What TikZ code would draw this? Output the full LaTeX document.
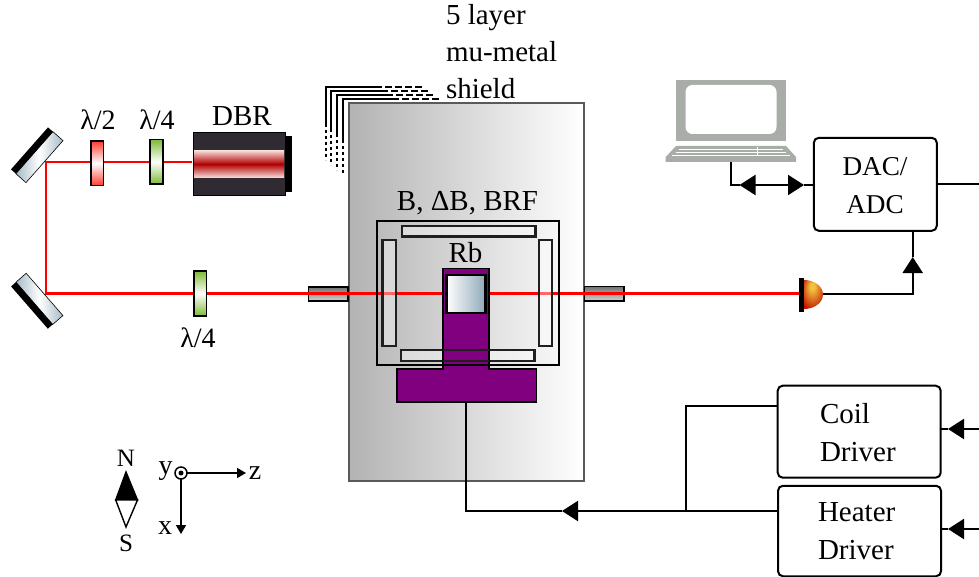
\documentclass[tikz,border=0pt]{standalone}
\usepackage{fontspec}
\setmainfont{Liberation Serif}
\usetikzlibrary{arrows.meta,calc}
\definecolor{beamred}{HTML}{FF0000}
\definecolor{platered}{HTML}{FF3B30}
\definecolor{plategreen}{HTML}{7DBB35}
\definecolor{dbrdark}{HTML}{302B33}
\definecolor{dbrred}{HTML}{B00000}
\definecolor{dbrpale}{HTML}{F6DCD8}
\definecolor{mirrorblue}{HTML}{A6BAC6}
\definecolor{cellblue}{HTML}{8FA9B8}
\definecolor{rbpurple}{HTML}{800080}
\definecolor{lapgray}{HTML}{A9ADA8}
\definecolor{domeyellow}{HTML}{F2C23E}
\definecolor{domered}{HTML}{C01000}
\pgfdeclareradialshading{domeshade}{\pgfpoint{-4bp}{16bp}}{color(0bp)=(domeyellow);color(6bp)=(domeyellow);color(34bp)=(domered);color(50bp)=(domered)}
\tikzset{
  >={Triangle[length=16pt,width=20pt]},
  lbl/.style={inner sep=0pt,outer sep=0pt,font=\fontsize{29}{37}\selectfont},
  lamlbl/.style={inner sep=0pt,outer sep=0pt,font=\fontsize{28}{37}\selectfont},
  dactxt/.style={inner sep=0pt,outer sep=0pt,align=center,font=\fontsize{27.2}{38}\selectfont},
  drvtxt/.style={inner sep=0pt,outer sep=0pt,align=left,font=\fontsize{29}{38}\selectfont},
  complbl/.style={inner sep=0pt,outer sep=0pt,font=\fontsize{25}{30}\selectfont},
  axlbl/.style={inner sep=0pt,outer sep=0pt,font=\fontsize{28}{30}\selectfont},
  wire/.style={draw=black,line width=2.2pt},
  beam/.style={draw=beamred,line width=2.2pt},
  ctrlbox/.style={draw=black,line width=2pt,rounded corners=5pt,inner sep=0pt,outer sep=0pt},
  plateR/.style={draw=black,line width=1.6pt,top color=platered,bottom color=platered,middle color=white},
  plateG/.style={draw=black,line width=1.6pt,top color=plategreen,bottom color=plategreen,middle color=white},
  tube/.style={draw=black,line width=1.6pt,top color=black!55,bottom color=black!18},
  coilbar/.style={draw=black!88,line width=2.2pt},
}
\begin{document}
\begin{tikzpicture}[x=1pt,y=-1pt]
\useasboundingbox (0,0) rectangle (979,577);

% coordinates on the beam
\coordinate (mt) at (46,162);
\coordinate (mb) at (46,293.5);
\coordinate (beamL) at (445,293.5);
\coordinate (beamR) at (487,293.5);

% mu-metal layers behind the shield
\foreach \xa/\ya/\xb/\xc/\yb/\yc in {326/87/375/422/124/160, 331/91/381/428/129/165, 337/95/386/435/134/170, 343/99/392/440/140/174}{
  \draw[line width=2.6pt] (\xa,\yb) -- (\xa,\ya) -- (\xb,\ya);
  \draw[line width=1.8pt,dash pattern=on 7pt off 3pt] (\xb,\ya) -- (\xc,\ya);
  \draw[line width=2.6pt,dash pattern=on 3pt off 3pt] (\xa,\yb) -- (\xa,\yc);
}

% shield
\path[left color=black!30,right color=white,draw=black!65,line width=1.6pt] (349,103) rectangle (584,481);

% ports
\path[tube] (308.5,287) rectangle (348,301);
\path[tube] (584.5,286.5) rectangle (624,301);

% beams
\draw[beam] (192,162) -- (mt) -- (mb) -- (beamL);
\draw[beam] (beamR) -- (800,293.5);

% DBR laser
\fill[black] (285,136) rectangle (292,192);
\path[fill=dbrdark,draw=black,line width=.8pt] (193,132) rectangle (285,195.5);
\path[top color=dbrpale,bottom color=dbrpale,middle color=dbrred] (194,150.5) rectangle (284,177.5);

% wave plates
\path[plateR] (90.7,141) rectangle (103.3,185.5);
\path[plateG] (150,139.5) rectangle (162.7,184);
\path[plateG] (193.7,271) rectangle (206.3,316);

% mirrors
\begin{scope}[shift={(37,155)},rotate=48.6]
  \path[left color=mirrorblue,right color=mirrorblue,middle color=white] (-28,-3.5) rectangle (28,10);
  \draw[black,line width=.6pt] (-28,-3.5) rectangle (28,10);
  \fill[black] (-28,-10) rectangle (28,-3.5);
\end{scope}
\begin{scope}[shift={(37,301)},rotate=-49]
  \path[left color=mirrorblue,right color=mirrorblue,middle color=white] (-28,-10) rectangle (28,3.5);
  \draw[black,line width=.6pt] (-28,-10) rectangle (28,3.5);
  \fill[black] (-28,3.5) rectangle (28,10);
\end{scope}

% coils
\draw[black,line width=2pt] (377,221) rectangle (558.5,365);
\path[coilbar,fill=white,fill opacity=.4] (402,226) rectangle (535.5,236.5);
\path[coilbar,fill=white,fill opacity=.4] (382.5,240) rectangle (396,346);
\path[coilbar,fill=white,fill opacity=.4] (539,240) rectangle (552,346);
\path[coilbar,fill=white,fill opacity=.4] (401,350) rectangle (534.5,361);

% Rb oven and cell
\path[fill=rbpurple,draw=black,line width=1.5pt] (443,268.5) -- (489,268.5) -- (489,369) -- (536.5,369) -- (536.5,402) -- (397,402) -- (397,369) -- (443,369) -- cycle;
\path[coilbar] (443,350) -- (489,350) (443,361) -- (489,361);
\draw[black,line width=2pt] (443,365) -- (489,365);
\path[left color=white,right color=cellblue,draw=black,line width=2.4pt] (446.5,275) rectangle (485.5,313);
\coordinate (ovenS) at (466,402);

% photodiode
\path[shading=domeshade] (804,280) arc[start angle=-90,end angle=90,x radius=19,y radius=14.5] -- cycle;
\fill[black] (799,277.7) rectangle (804,311.7);
\coordinate (pd) at (823,294);

% laptop
\fill[lapgray] (676,80) rectangle (785.7,141);
\fill[white,rounded corners=7pt] (685.5,85) rectangle (776.5,134);
\fill[lapgray] (676,146) -- (786,146) -- (796,157) -- (796,162) -- (665.7,162) -- (665.7,157) -- cycle;
\draw[white,line width=.8pt] (679,149.2) -- (783,149.2) (676,152.3) -- (786,152.3) (672,155.5) -- (790,155.5) (757,147) -- (757,156);
\coordinate (lap) at (730.7,162);

% boxes
\node[ctrlbox,minimum width=123pt,minimum height=93pt] (dac) at (875.3,184.3) {};
\node[dactxt] (dactext) at (875,186) {DAC/\\ADC};
\node[ctrlbox,minimum width=163pt,minimum height=92pt] (coil) at (859.2,431.7) {};
\node[drvtxt,anchor=west] (coiltext) at (820,433) {Coil\\Driver};
\node[ctrlbox,minimum width=163pt,minimum height=90.5pt] (heater) at (859.5,531) {};
\node[drvtxt,anchor=west] (heatertext) at (818,531) {Heater\\Driver};

% laptop to DAC
\coordinate (lapc) at (730.7,185);
\coordinate (tipL) at (739.5,185);
\coordinate (tipR) at (804,185);
\coordinate (bimid) at (770,185);
\draw[wire] (lap) -- (lapc) -- (tipL);
\draw[wire,->] (bimid) -- (tipL);
\draw[wire,->] (bimid) -- (tipR);
\draw[wire] (tipR) -- (dac.west |- tipR);

% DAC out to the right
\coordinate (edgeD) at (979,184.3);
\draw[wire] (dac.east |- edgeD) -- (edgeD);

% photodiode to DAC
\coordinate (pdc) at (912.7,294);
\coordinate (tipU) at (912.7,257);
\draw[wire,->] (pd) -- (pdc) -- (tipU);
\draw[wire] (tipU) -- (tipU |- dac.south);

% drivers
\coordinate (join) at (686,511);
\coordinate (tipH) at (562,511);
\coordinate (ovenc) at (466,511);
\draw[wire] (heater.west |- join) -- (join);
\draw[wire] (coil.west |- 0,406) -- (686,406) -- (join);
\draw[wire,->] (join) -- (tipH);
\draw[wire] (tipH) -- (ovenc) -- (ovenS);

\coordinate (edgeC) at (979,429);
\coordinate (tipC) at (948,429);
\draw[wire,->] (edgeC) -- (tipC);
\draw[wire] (tipC) -- (coil.east |- tipC);
\coordinate (edgeH) at (979,529);
\coordinate (tipH2) at (948,529);
\draw[wire,->] (edgeH) -- (tipH2);
\draw[wire] (tipH2) -- (heater.east |- tipH2);

% labels
\node[lbl,anchor=west,align=left] (shieldlbl) at (446,52) {5 layer\\mu-metal\\shield};
\node[lbl] (bdb) at (467.5,203) {B, ΔB, BRF};
\node[lbl] (rb) at (465.5,253) {Rb};
\node[lbl] (dbr) at (242,116) {DBR};
\node[lamlbl] (h2) at (98,120) {λ/2};
\node[lamlbl] (q1) at (157,120) {λ/4};
\node[lamlbl] (q2) at (198,338) {λ/4};

% compass
\path[fill=black,draw=black,line width=1.4pt] (126,472) -- (137.5,500) -- (115.7,500) -- cycle;
\path[fill=white,draw=black,line width=1.4pt] (115.7,500) -- (137.5,500) -- (126,527) -- cycle;
\node[complbl] (north) at (126,458) {N};
\node[complbl] (south) at (126,543.5) {S};

% axes
\node[circle,draw=black,line width=1.5pt,minimum size=12pt,inner sep=0pt,outer sep=0pt] (orig) at (181,473) {};
\fill[black] (orig.center) circle (2.5);
\coordinate (zend) at (246,473);
\coordinate (xend) at (181,534);
\draw[line width=1.6pt,-{Triangle[length=9pt,width=10pt]}] (orig) -- (zend);
\draw[line width=1.6pt,-{Triangle[length=9pt,width=10pt]}] (orig) -- (xend);
\node[axlbl] (ylbl) at (165.5,471) {y};
\node[axlbl] (zlbl) at (255,473.5) {z};
\node[axlbl] (xlbl) at (165,528) {x};
\end{tikzpicture}
\end{document}
